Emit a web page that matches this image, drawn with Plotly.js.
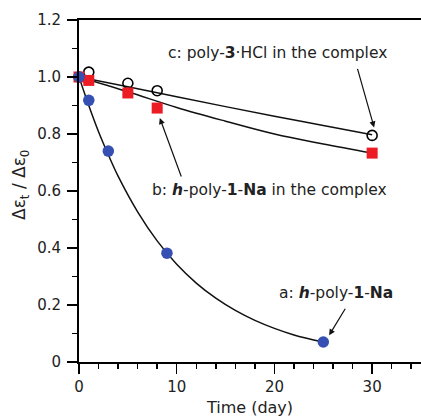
<!DOCTYPE html>
<html>
<head>
<meta charset="utf-8">
<script src="https://cdn.plot.ly/plotly-3.0.1.min.js"></script>
<style>html,body{margin:0;padding:0;background:#fff;}#chart{width:421px;height:420px;}</style>
</head>
<body>
<div id="chart"></div>
<script>
// Measured data
var timeA = [0, 1, 3, 9, 25];
var valA  = [1.0, 0.918, 0.740, 0.382, 0.070];
var timeB = [0, 1, 5, 8, 30];
var valB  = [1.0, 0.988, 0.944, 0.891, 0.733];
var timeC = [0, 1, 5, 8, 30];
var valC  = [1.0, 1.017, 0.978, 0.952, 0.795];

// Fitted curves
var fitTimeA = [0, 1, 2, 3, 4, 6, 8, 10, 12, 14, 16, 18, 20, 22, 25];
var fitValA  = [1.0, 0.900, 0.808, 0.727, 0.652, 0.527, 0.425, 0.343, 0.277, 0.224, 0.181, 0.146, 0.118, 0.095, 0.070];
var fitTimeB = [0, 5, 10, 15, 20, 25, 30];
var fitValB  = [1.0, 0.948, 0.893, 0.845, 0.800, 0.765, 0.733];
var fitTimeC = [0, 5, 10, 15, 20, 25, 30];
var fitValC  = [1.0, 0.966, 0.931, 0.896, 0.862, 0.830, 0.797];

var yTickVals = [0, 0.2, 0.4, 0.6, 0.8, 1.0, 1.2];
var yTickText = ["0", "0.2", "0.4", "0.6", "0.8", "1.0", "1.2"];
var xTickVals = [0, 10, 20, 30];
var xTickText = ["0", "10", "20", "30"];

var lineStyle = {color: '#111', width: 1.5, shape: 'spline'};

var traces = [
  {x: fitTimeC, y: fitValC, mode: 'lines', line: lineStyle, hoverinfo: 'skip', cliponaxis: false},
  {x: fitTimeB, y: fitValB, mode: 'lines', line: lineStyle, hoverinfo: 'skip', cliponaxis: false},
  {x: fitTimeA, y: fitValA, mode: 'lines', line: lineStyle, hoverinfo: 'skip', cliponaxis: false},
  {x: timeC, y: valC, mode: 'markers', cliponaxis: false,
   marker: {symbol: 'circle-open', size: 10, color: '#000', line: {width: 1.6, color: '#000'}}},
  {x: timeB, y: valB, mode: 'markers', cliponaxis: false,
   marker: {symbol: 'square', size: 11, color: '#ec1c24', line: {width: 0}}},
  {x: timeA, y: valA, mode: 'markers', cliponaxis: false,
   marker: {symbol: 'circle', size: 11.5, color: '#3550b2', line: {width: 0}}}
];

var fontFam = 'DejaVu Sans, sans-serif';
var txtCol = '#222';

var layout = {
  width: 421, height: 420,
  margin: {l: 79, r: 0, t: 20, b: 58},
  showlegend: false,
  paper_bgcolor: '#fff', plot_bgcolor: '#fff',
  font: {family: fontFam, color: txtCol, size: 15},
  xaxis: {
    range: [0, 35], showgrid: false, zeroline: false,
    showline: true, linecolor: '#000', linewidth: 2, mirror: true,
    ticks: 'outside', ticklen: 10, tickwidth: 1.5, tickcolor: '#000',
    tickvals: xTickVals, ticktext: xTickText,
    tickfont: {size: 15, family: fontFam, color: txtCol},
    minor: {ticks: 'outside', dtick: 2, ticklen: 5, tickwidth: 1.5, tickcolor: '#000', showgrid: false},
    title: {text: 'Time (day)', font: {size: 16, family: fontFam, color: txtCol}, standoff: 7}
  },
  yaxis: {
    range: [0, 1.2], showgrid: false, zeroline: false,
    showline: true, linecolor: '#000', linewidth: 2,
    ticks: 'outside', ticklen: 10, tickwidth: 1.5, tickcolor: '#000', ticklabelstandoff: 3,
    tickvals: yTickVals, ticktext: yTickText,
    tickfont: {size: 15, family: fontFam, color: txtCol},
    minor: {ticks: 'outside', dtick: 0.1, ticklen: 5, tickwidth: 1.5, tickcolor: '#000', showgrid: false},
    title: {text: '', font: {size: 16, family: fontFam, color: txtCol}}
  },
  annotations: [
    {xref: 'paper', yref: 'paper', x: (21 - 79) / 342, y: (362 - 185) / 342, xanchor: 'center', yanchor: 'middle', textangle: -90,
     text: 'Δε<sub>t</sub> / Δε<sub>0</sub>', showarrow: false, font: {size: 17, family: fontFam, color: txtCol}},
    {xref: 'paper', yref: 'paper', x: (277 - 79) / 342, y: (362 - 53) / 342, xanchor: 'center', yanchor: 'middle',
     text: 'c: poly-<b>3</b>·HCl in the complex', showarrow: false, font: {size: 15.5, family: fontFam, color: txtCol}},
    {xref: 'paper', yref: 'paper', x: (269 - 79) / 342, y: (362 - 190) / 342, xanchor: 'center', yanchor: 'middle',
     text: 'b: <b><i>h</i></b>-poly-<b>1</b>-<b>Na</b> in the complex', showarrow: false, font: {size: 15.5, family: fontFam, color: txtCol}},
    {xref: 'paper', yref: 'paper', x: (336 - 79) / 342, y: (362 - 293) / 342, xanchor: 'center', yanchor: 'middle',
     text: 'a: <b><i>h</i></b>-poly-<b>1</b>-<b>Na</b>', showarrow: false, font: {size: 15.5, family: fontFam, color: txtCol}},
    {xref: 'x', yref: 'y', x: 30.2, y: 0.823, text: '', showarrow: true, arrowhead: 2, arrowsize: 1, arrowwidth: 1.2, arrowcolor: '#111',
     ax: -17, ay: -60},
    {xref: 'x', yref: 'y', x: 8.27, y: 0.856, text: '', showarrow: true, arrowhead: 2, arrowsize: 1, arrowwidth: 1.2, arrowcolor: '#111',
     ax: 22, ay: 60},
    {xref: 'x', yref: 'y', x: 25.6, y: 0.094, text: '', showarrow: true, arrowhead: 2, arrowsize: 1, arrowwidth: 1.2, arrowcolor: '#111',
     ax: 17, ay: -28}
  ]
};

Plotly.newPlot('chart', traces, layout, {displayModeBar: false, staticPlot: true});
</script>
</body>
</html>
